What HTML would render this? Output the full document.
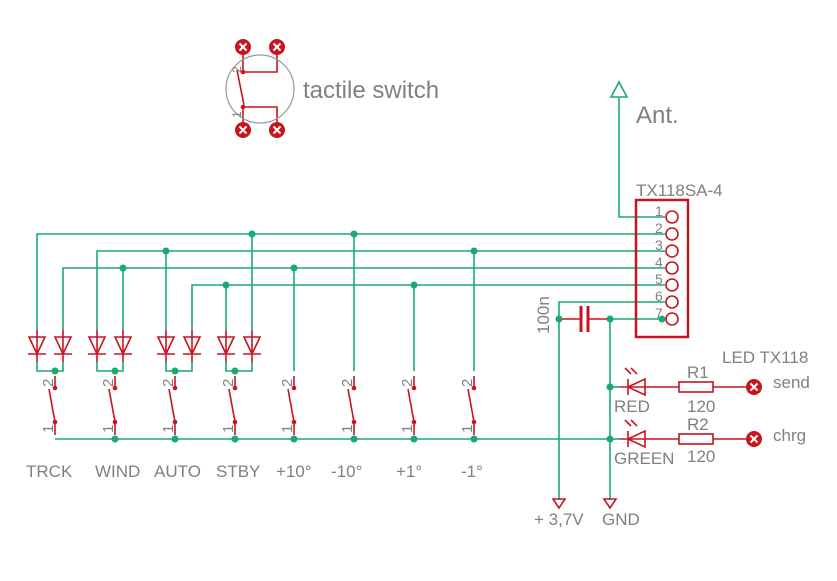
<!DOCTYPE html>
<html><head><meta charset="utf-8"><style>body{margin:0;background:#fff}svg{display:block}text{font-family:"Liberation Sans",sans-serif;fill:#808080}</style></head><body>
<svg width="837" height="581" viewBox="0 0 837 581" xmlns="http://www.w3.org/2000/svg">
<g stroke="#1aa874" stroke-width="1.6" fill="none">
<polyline points="37,330 37,234 665,234"/>
<polyline points="97,330 97,251 665,251"/>
<polyline points="63,330 63,268 665,268"/>
<polyline points="192,330 192,285 665,285"/>
<polyline points="559,500 559,302 665,302"/>
<polyline points="619,98 619,217 665,217"/>
<line x1="610" y1="319" x2="665" y2="319"/>
<line x1="610" y1="319" x2="610" y2="500"/>
<line x1="55" y1="439" x2="610" y2="439"/>
<line x1="123" y1="268" x2="123" y2="330"/>
<line x1="166" y1="251" x2="166" y2="330"/>
<line x1="226" y1="285" x2="226" y2="330"/>
<line x1="252" y1="234" x2="252" y2="330"/>
<line x1="294" y1="268" x2="294" y2="371"/>
<line x1="354" y1="234" x2="354" y2="371"/>
<line x1="414" y1="285" x2="414" y2="371"/>
<line x1="474" y1="251" x2="474" y2="371"/>
<polyline points="37,362 37,371 63,371 63,362"/>
<polyline points="97,362 97,371 123,371 123,362"/>
<polyline points="166,362 166,371 192,371 192,362"/>
<polyline points="226,362 226,371 252,371 252,362"/>
<line x1="610" y1="387" x2="620" y2="387"/>
<line x1="610" y1="439" x2="620" y2="439"/>
<polygon points="619,82 611,97 627,97"/>
</g>
<g fill="#1aa874">
<circle cx="252" cy="234" r="3.5"/><circle cx="354" cy="234" r="3.5"/>
<circle cx="166" cy="251" r="3.5"/><circle cx="474" cy="251" r="3.5"/>
<circle cx="123" cy="268" r="3.5"/><circle cx="294" cy="268" r="3.5"/>
<circle cx="226" cy="285" r="3.5"/><circle cx="414" cy="285" r="3.5"/>
<circle cx="55" cy="371" r="3.5"/><circle cx="115" cy="371" r="3.5"/><circle cx="175" cy="371" r="3.5"/><circle cx="235" cy="371" r="3.5"/>
<circle cx="115" cy="439" r="3.5"/><circle cx="175" cy="439" r="3.5"/><circle cx="235" cy="439" r="3.5"/><circle cx="294" cy="439" r="3.5"/><circle cx="354" cy="439" r="3.5"/><circle cx="414" cy="439" r="3.5"/><circle cx="474" cy="439" r="3.5"/>
<circle cx="559" cy="319" r="3.5"/><circle cx="610" cy="319" r="3.5"/><circle cx="662" cy="319" r="3.5"/>
<circle cx="610" cy="387" r="3.5"/><circle cx="610" cy="439" r="3.5"/>
</g>
<g stroke="#c8141e" stroke-width="1.6" fill="none">
<g id="d"><line x1="37" y1="330" x2="37" y2="362"/><polygon points="29,337 45,337 37,354"/><line x1="28" y1="354" x2="46" y2="354"/></g>
<use href="#d" x="26"/><use href="#d" x="60"/><use href="#d" x="86"/><use href="#d" x="129"/><use href="#d" x="155"/><use href="#d" x="189"/><use href="#d" x="215"/>
<g id="s"><line x1="55" y1="376" x2="55" y2="388"/><line x1="49" y1="389" x2="55" y2="422"/><line x1="55" y1="422" x2="55" y2="435"/></g>
<use href="#s" x="60"/><use href="#s" x="120"/><use href="#s" x="180"/><use href="#s" x="239"/><use href="#s" x="299"/><use href="#s" x="359"/><use href="#s" x="419"/>
<rect x="636" y="200" width="52" height="137" stroke-width="2.5"/>
<circle cx="672" cy="217" r="6"/><circle cx="672" cy="234" r="6"/><circle cx="672" cy="251" r="6"/><circle cx="672" cy="268" r="6"/><circle cx="672" cy="285" r="6"/><circle cx="672" cy="302" r="6"/><circle cx="672" cy="319" r="6"/>
<line x1="562" y1="319" x2="580" y2="319"/><line x1="588" y1="319" x2="607" y2="319"/>
<line x1="581" y1="306" x2="581" y2="332" stroke-width="3"/><line x1="588" y1="306" x2="588" y2="332" stroke-width="3"/>
<line x1="620" y1="387" x2="679" y2="387"/><polygon points="628,387 645,379 645,395"/><line x1="628" y1="379" x2="628" y2="395"/>
<rect x="679" y="382" width="34" height="10"/><line x1="713" y1="387" x2="748" y2="387"/>
<line x1="620" y1="439" x2="679" y2="439"/><polygon points="628,439 645,431 645,447"/><line x1="628" y1="431" x2="628" y2="447"/>
<rect x="679" y="434" width="34" height="10"/><line x1="713" y1="439" x2="748" y2="439"/>
<path d="M631,374 l-6,-6 M637,374 l-6,-6 M631,426 l-6,-6 M637,426 l-6,-6"/>
<polygon points="553,499 565,499 559,508"/><polygon points="604,499 616,499 610,508"/>
<polyline points="243,47 243,72 277,72 277,47"/><polyline points="243,130 243,107 277,107 277,130"/>
<line x1="237" y1="70" x2="244" y2="105"/>
</g>
<g fill="#c8141e">
<circle cx="55" cy="388" r="2.3"/><circle cx="55" cy="422" r="2.3"/>
<circle cx="115" cy="388" r="2.3"/><circle cx="115" cy="422" r="2.3"/>
<circle cx="175" cy="388" r="2.3"/><circle cx="175" cy="422" r="2.3"/>
<circle cx="235" cy="388" r="2.3"/><circle cx="235" cy="422" r="2.3"/>
<circle cx="294" cy="388" r="2.3"/><circle cx="294" cy="422" r="2.3"/>
<circle cx="354" cy="388" r="2.3"/><circle cx="354" cy="422" r="2.3"/>
<circle cx="414" cy="388" r="2.3"/><circle cx="414" cy="422" r="2.3"/>
<circle cx="474" cy="388" r="2.3"/><circle cx="474" cy="422" r="2.3"/>
<circle cx="243" cy="72" r="2.3"/><circle cx="243" cy="107" r="2.3"/>
</g>
<circle cx="260" cy="89" r="34" fill="none" stroke="#999" stroke-width="1.2"/>
<g id="p"><circle cx="243" cy="47" r="8" fill="#c8141e"/><path d="M239.5,43.5 l7,7 M246.5,43.5 l-7,7" stroke="#fff" stroke-width="2"/></g>
<use href="#p" x="34"/><use href="#p" y="83"/><use href="#p" x="34" y="83"/><use href="#p" x="511" y="340"/><use href="#p" x="511" y="392"/>
<g font-size="15">
<text transform="translate(53,387) rotate(-90)">2</text><text transform="translate(53,433) rotate(-90)">1</text>
<text transform="translate(113,387) rotate(-90)">2</text><text transform="translate(113,433) rotate(-90)">1</text>
<text transform="translate(173,387) rotate(-90)">2</text><text transform="translate(173,433) rotate(-90)">1</text>
<text transform="translate(233,387) rotate(-90)">2</text><text transform="translate(233,433) rotate(-90)">1</text>
<text transform="translate(292,387) rotate(-90)">2</text><text transform="translate(292,433) rotate(-90)">1</text>
<text transform="translate(352,387) rotate(-90)">2</text><text transform="translate(352,433) rotate(-90)">1</text>
<text transform="translate(412,387) rotate(-90)">2</text><text transform="translate(412,433) rotate(-90)">1</text>
<text transform="translate(472,387) rotate(-90)">2</text><text transform="translate(472,433) rotate(-90)">1</text>
<text transform="translate(241,73) rotate(-90)" font-size="12">2</text><text transform="translate(241,118) rotate(-90)" font-size="12">1</text>
<text x="655" y="216" font-size="14">1</text><text x="655" y="233" font-size="14">2</text><text x="655" y="250" font-size="14">3</text><text x="655" y="267" font-size="14">4</text><text x="655" y="284" font-size="14">5</text><text x="655" y="301" font-size="14">6</text><text x="655" y="318" font-size="14">7</text>
</g>
<g font-size="17">
<text x="26" y="477">TRCK</text><text x="95" y="477">WIND</text><text x="154" y="477">AUTO</text><text x="216" y="477">STBY</text>
<text x="276" y="477">+10°</text><text x="331" y="477">-10°</text><text x="396" y="477">+1°</text><text x="461" y="477">-1°</text>
<text x="636" y="196">TX118SA-4</text>
<text x="722" y="363">LED TX118</text>
<text x="773" y="388">send</text><text x="773" y="441">chrg</text>
<text x="687" y="378">R1</text><text x="687" y="412">120</text>
<text x="687" y="430">R2</text><text x="687" y="462">120</text>
<text x="614" y="412">RED</text><text x="614" y="464">GREEN</text>
<text x="534" y="525">+ 3,7V</text><text x="602" y="525">GND</text>
<text transform="translate(549,334) rotate(-90)">100n</text>
</g>
<text x="303" y="98" font-size="24">tactile switch</text>
<text x="636" y="123" font-size="24">Ant.</text>
</svg>
</body></html>
